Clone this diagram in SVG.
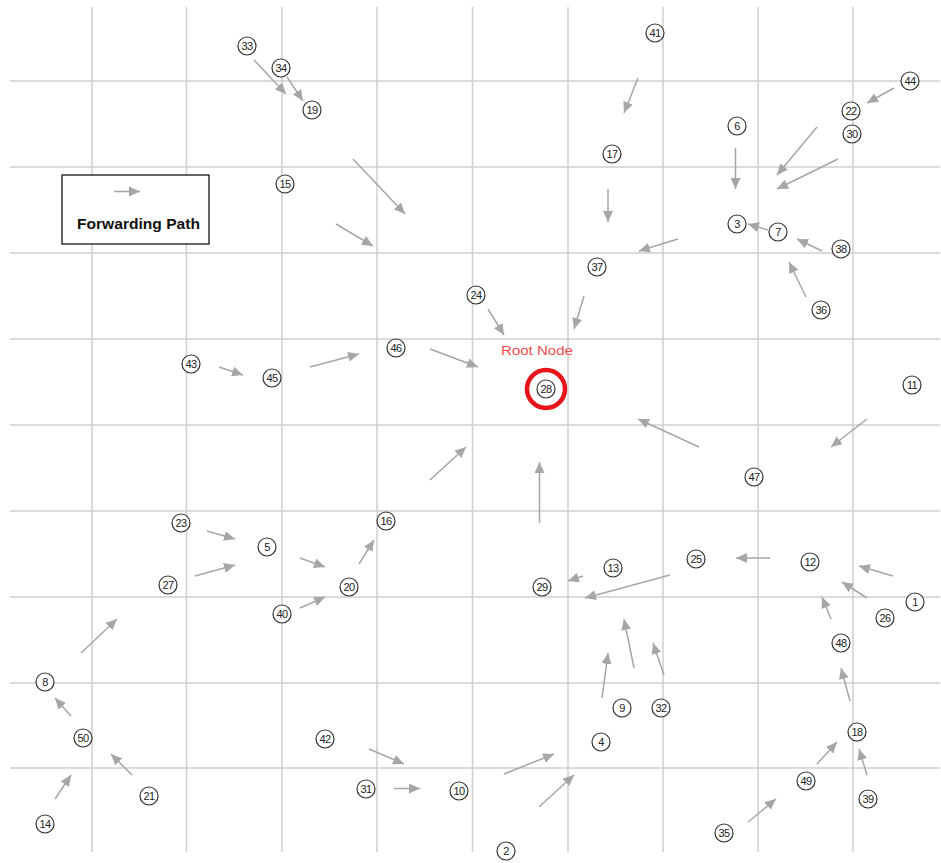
<svg xmlns="http://www.w3.org/2000/svg" width="941" height="863" viewBox="0 0 941 863">
<defs>
<marker id="ah" markerUnits="userSpaceOnUse" markerWidth="12" markerHeight="10" refX="11" refY="5" orient="auto">
<path d="M0,0 L11,5 L0,10 z" fill="#a6a6a6"/>
</marker>
<style>
.g{stroke:#cfcfcf;stroke-width:1.5;fill:none}
.c line{stroke:#a6a6a6;stroke-width:1.5;marker-end:url(#ah)}
.n circle{fill:#fff;stroke:#333;stroke-width:1.2}
.n text{font-family:"Liberation Sans",Arial,sans-serif;font-size:11px;fill:#222;text-anchor:middle;dominant-baseline:central;letter-spacing:-0.6px}
</style>
</defs>
<rect width="941" height="863" fill="#fff"/>
<g id="grid" class="g">
<line x1="92" y1="7" x2="92" y2="852"/>
<line x1="186.5" y1="7" x2="186.5" y2="852"/>
<line x1="282" y1="7" x2="282" y2="852"/>
<line x1="377" y1="7" x2="377" y2="852"/>
<line x1="472.5" y1="7" x2="472.5" y2="852"/>
<line x1="568" y1="7" x2="568" y2="852"/>
<line x1="663" y1="7" x2="663" y2="852"/>
<line x1="758" y1="7" x2="758" y2="852"/>
<line x1="853" y1="7" x2="853" y2="852"/>
<line x1="10" y1="81" x2="940" y2="81"/>
<line x1="10" y1="167" x2="940" y2="167"/>
<line x1="10" y1="253" x2="940" y2="253"/>
<line x1="10" y1="339" x2="940" y2="339"/>
<line x1="10" y1="425" x2="940" y2="425"/>
<line x1="10" y1="511" x2="940" y2="511"/>
<line x1="10" y1="597" x2="940" y2="597"/>
<line x1="10" y1="683" x2="940" y2="683"/>
<line x1="10" y1="768" x2="940" y2="768"/>
</g>
<g id="legend">
<rect x="62" y="175" width="147" height="69" fill="#fff" stroke="#000" stroke-width="1.2"/>
<line x1="114" y1="191.5" x2="140" y2="191.5" stroke="#a6a6a6" stroke-width="1.5" marker-end="url(#ah)"/>
<text x="77" y="229" font-family="Liberation Sans,Arial,sans-serif" font-size="14" font-weight="bold" fill="#111" textLength="123" lengthAdjust="spacingAndGlyphs">Forwarding Path</text>
</g>
<g id="connectors" class="c">
<line x1="254" y1="60" x2="286" y2="94"/>
<line x1="287" y1="77" x2="303" y2="101"/>
<line x1="353" y1="159" x2="405" y2="214"/>
<line x1="336" y1="224" x2="373" y2="246"/>
<line x1="638" y1="78" x2="624" y2="113"/>
<line x1="608" y1="189" x2="608" y2="222"/>
<line x1="584" y1="296" x2="574" y2="329"/>
<line x1="678" y1="239" x2="639" y2="251"/>
<line x1="735.5" y1="148" x2="735.5" y2="189"/>
<line x1="817" y1="127" x2="777" y2="175"/>
<line x1="838" y1="159" x2="777" y2="189"/>
<line x1="894" y1="88" x2="867" y2="103"/>
<line x1="768" y1="230" x2="748" y2="224"/>
<line x1="822" y1="251" x2="797" y2="239"/>
<line x1="806" y1="297" x2="789" y2="262"/>
<line x1="488" y1="309" x2="504" y2="335"/>
<line x1="310" y1="367" x2="359" y2="354"/>
<line x1="430" y1="349" x2="478" y2="367"/>
<line x1="219" y1="367" x2="243" y2="375"/>
<line x1="430" y1="480" x2="466" y2="447"/>
<line x1="539.5" y1="523" x2="539.5" y2="462"/>
<line x1="699" y1="447" x2="638" y2="419"/>
<line x1="867" y1="419" x2="831" y2="447"/>
<line x1="770" y1="558" x2="736" y2="558"/>
<line x1="893" y1="576" x2="859" y2="566"/>
<line x1="207" y1="531" x2="235" y2="539"/>
<line x1="195" y1="576" x2="235" y2="565"/>
<line x1="300" y1="558" x2="325" y2="567"/>
<line x1="359" y1="564" x2="374" y2="540"/>
<line x1="300" y1="608" x2="325" y2="597"/>
<line x1="583" y1="576" x2="568" y2="581"/>
<line x1="670" y1="575" x2="585" y2="598"/>
<line x1="602" y1="698" x2="608" y2="653"/>
<line x1="634" y1="668" x2="624" y2="619"/>
<line x1="664" y1="675" x2="653" y2="643"/>
<line x1="867" y1="598" x2="842" y2="582"/>
<line x1="831" y1="619" x2="822" y2="597"/>
<line x1="850" y1="701" x2="841" y2="668"/>
<line x1="817" y1="764" x2="837" y2="742"/>
<line x1="867" y1="775" x2="859" y2="749"/>
<line x1="748" y1="822" x2="776" y2="799"/>
<line x1="369" y1="749" x2="404" y2="764"/>
<line x1="394" y1="788.5" x2="420" y2="788.5"/>
<line x1="504" y1="774" x2="554" y2="754"/>
<line x1="539" y1="807" x2="574" y2="775"/>
<line x1="81" y1="653" x2="117" y2="619"/>
<line x1="71" y1="716" x2="55" y2="698"/>
<line x1="132" y1="775" x2="111" y2="754"/>
<line x1="55" y1="799" x2="71" y2="775"/>
</g>
<g id="root-label">
<text x="537" y="355" font-family="Liberation Sans,Arial,sans-serif" font-size="12.5" fill="#f24b4b" text-anchor="middle" textLength="72" lengthAdjust="spacingAndGlyphs">Root Node</text>
</g>
<g id="nodes" class="n">
<g id="n28"><circle cx="546" cy="389" r="19" fill="none" style="fill:none;stroke:#e8141c;stroke-width:4.5"/><circle cx="546" cy="389" r="9"/><text x="546" y="389">28</text></g>
<g id="n33"><circle cx="247" cy="46" r="9"/><text x="247" y="46">33</text></g>
<g id="n34"><circle cx="281" cy="68" r="9"/><text x="281" y="68">34</text></g>
<g id="n19"><circle cx="312" cy="110" r="9"/><text x="312" y="110">19</text></g>
<g id="n15"><circle cx="285" cy="184" r="9"/><text x="285" y="184">15</text></g>
<g id="n41"><circle cx="655" cy="33" r="9"/><text x="655" y="33">41</text></g>
<g id="n17"><circle cx="612" cy="154" r="9"/><text x="612" y="154">17</text></g>
<g id="n37"><circle cx="597" cy="267" r="9"/><text x="597" y="267">37</text></g>
<g id="n6"><circle cx="737" cy="126" r="9"/><text x="737" y="126">6</text></g>
<g id="n22"><circle cx="851" cy="111" r="9"/><text x="851" y="111">22</text></g>
<g id="n30"><circle cx="852" cy="134" r="9"/><text x="852" y="134">30</text></g>
<g id="n44"><circle cx="910" cy="81" r="9"/><text x="910" y="81">44</text></g>
<g id="n3"><circle cx="737" cy="224" r="9"/><text x="737" y="224">3</text></g>
<g id="n7"><circle cx="778" cy="232" r="9"/><text x="778" y="232">7</text></g>
<g id="n38"><circle cx="841" cy="249" r="9"/><text x="841" y="249">38</text></g>
<g id="n36"><circle cx="821" cy="310" r="9"/><text x="821" y="310">36</text></g>
<g id="n24"><circle cx="476" cy="295" r="9"/><text x="476" y="295">24</text></g>
<g id="n46"><circle cx="396" cy="348" r="9"/><text x="396" y="348">46</text></g>
<g id="n43"><circle cx="191" cy="364" r="9"/><text x="191" y="364">43</text></g>
<g id="n45"><circle cx="272" cy="378" r="9"/><text x="272" y="378">45</text></g>
<g id="n11"><circle cx="912" cy="385" r="9"/><text x="912" y="385">11</text></g>
<g id="n47"><circle cx="754" cy="477" r="9"/><text x="754" y="477">47</text></g>
<g id="n23"><circle cx="181" cy="523" r="9"/><text x="181" y="523">23</text></g>
<g id="n5"><circle cx="267" cy="547" r="9"/><text x="267" y="547">5</text></g>
<g id="n16"><circle cx="386" cy="521" r="9"/><text x="386" y="521">16</text></g>
<g id="n27"><circle cx="168" cy="585" r="9"/><text x="168" y="585">27</text></g>
<g id="n20"><circle cx="349" cy="587" r="9"/><text x="349" y="587">20</text></g>
<g id="n40"><circle cx="282" cy="614" r="9"/><text x="282" y="614">40</text></g>
<g id="n29"><circle cx="542" cy="587" r="9"/><text x="542" y="587">29</text></g>
<g id="n13"><circle cx="613" cy="568" r="9"/><text x="613" y="568">13</text></g>
<g id="n25"><circle cx="696" cy="559" r="9"/><text x="696" y="559">25</text></g>
<g id="n12"><circle cx="810" cy="562" r="9"/><text x="810" y="562">12</text></g>
<g id="n1"><circle cx="915" cy="602" r="9"/><text x="915" y="602">1</text></g>
<g id="n26"><circle cx="885" cy="618" r="9"/><text x="885" y="618">26</text></g>
<g id="n48"><circle cx="841" cy="643" r="9"/><text x="841" y="643">48</text></g>
<g id="n8"><circle cx="45" cy="682" r="9"/><text x="45" y="682">8</text></g>
<g id="n50"><circle cx="83" cy="738" r="9"/><text x="83" y="738">50</text></g>
<g id="n21"><circle cx="149" cy="796" r="9"/><text x="149" y="796">21</text></g>
<g id="n14"><circle cx="45" cy="824" r="9"/><text x="45" y="824">14</text></g>
<g id="n42"><circle cx="325" cy="739" r="9"/><text x="325" y="739">42</text></g>
<g id="n31"><circle cx="366" cy="789" r="9"/><text x="366" y="789">31</text></g>
<g id="n10"><circle cx="459" cy="791" r="9"/><text x="459" y="791">10</text></g>
<g id="n2"><circle cx="506" cy="851" r="9"/><text x="506" y="851">2</text></g>
<g id="n4"><circle cx="601" cy="742" r="9"/><text x="601" y="742">4</text></g>
<g id="n9"><circle cx="622" cy="708" r="9"/><text x="622" y="708">9</text></g>
<g id="n32"><circle cx="661" cy="708" r="9"/><text x="661" y="708">32</text></g>
<g id="n18"><circle cx="857" cy="732" r="9"/><text x="857" y="732">18</text></g>
<g id="n49"><circle cx="806" cy="781" r="9"/><text x="806" y="781">49</text></g>
<g id="n39"><circle cx="868" cy="799" r="9"/><text x="868" y="799">39</text></g>
<g id="n35"><circle cx="724" cy="833" r="9"/><text x="724" y="833">35</text></g>
</g>
</svg>
